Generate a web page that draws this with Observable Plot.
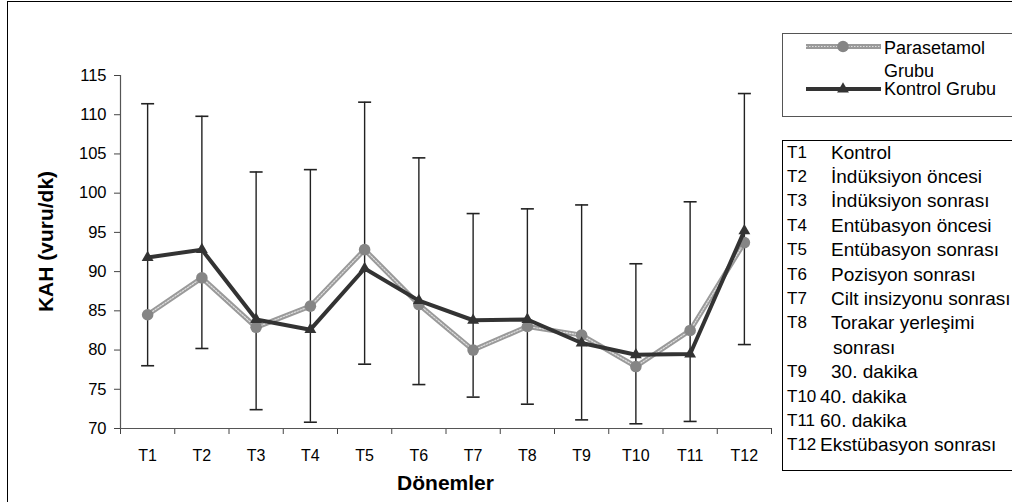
<!DOCTYPE html>
<html>
<head>
<meta charset="utf-8">
<script src="https://cdn.jsdelivr.net/npm/d3@7"></script>
<script src="https://cdn.jsdelivr.net/npm/@observablehq/plot@0.6"></script>
<style>
  html, body { margin: 0; padding: 0; background: #fff; overflow: hidden; }
  body { width: 1012px; height: 502px; position: relative; font-family: "Liberation Sans", Arial, sans-serif; }
  #chart { position: absolute; left: 0; top: 0; }
  #titles { position: absolute; left: 0; top: 0; pointer-events: none; }
  #frame { position: absolute; left: 7px; top: 1px; width: 1100px; height: 700px; border: 1.5px solid #000; pointer-events: none; }
  #legend { position: absolute; left: 782px; top: 33px; width: 300px; height: 82px; border: 1.3px solid #555; background: #fff; }
  #legend svg { position: absolute; left: 0; top: 0; }
  #desc { position: absolute; left: 782px; top: 140px; width: 300px; height: 329px; border: 1.5px solid #000; background: #fff; color: #000; }
  #desc .row { position: absolute; left: 0; height: 24.4px; line-height: 24.4px; white-space: nowrap; }
  #desc .k { position: absolute; left: 4px; font-size: 17px; }
  #desc .v { position: absolute; font-size: 19px; }
</style>
</head>
<body>
<div id="chart"></div>
<svg id="titles" width="1012" height="502"></svg>
<div id="frame"></div>
<div id="legend"></div>
<div id="desc"></div>
<script>
// ---- data ----
const categories = ["T1","T2","T3","T4","T5","T6","T7","T8","T9","T10","T11","T12"];
const parasetamol = [84.5, 89.2, 82.9, 85.6, 92.8, 85.8, 80.0, 83.0, 81.9, 77.9, 82.5, 93.7];
const kontrol     = [91.8, 92.8, 83.9, 82.6, 90.4, 86.3, 83.8, 83.9, 80.9, 79.4, 79.5, 95.2];
const errHigh     = [111.4, 109.8, 102.7, 103.0, 111.6, 104.5, 97.4, 98.0, 98.5, 91.0, 98.9, 112.7];
const errLow      = [78.0, 80.2, 72.4, 70.8, 78.2, 75.6, 74.0, 73.1, 71.1, 70.6, 70.9, 80.7];
const yTicks = [70, 75, 80, 85, 90, 95, 100, 105, 110, 115];
const seriesNames = ["Parasetamol Grubu", "Kontrol Grubu"];
const periodCodes = ["T1","T2","T3","T4","T5","T6","T7","T8","","T9","T10","T11","T12"];
const periodNames = ["Kontrol","İndüksiyon öncesi","İndüksiyon sonrası","Entübasyon öncesi","Entübasyon sonrası","Pozisyon sonrası","Cilt insizyonu sonrası","Torakar yerleşimi","sonrası","30. dakika","40. dakika","60. dakika","Ekstübasyon sonrası"];
const yTitle = "KAH (vuru/dk)";
const xTitle = "Dönemler";

// ---- table ----
const rows = categories.map((c, i) => ({
  idx: i + 1, cat: c, p: parasetamol[i], k: kontrol[i], hi: errHigh[i], lo: errLow[i]
}));

// horizontal cap symbol for error bars
const capSymbol = { draw(ctx, size) { const w = 6.5; ctx.moveTo(-w, 0); ctx.lineTo(w, 0); } };

const plot = Plot.plot({
  width: 1012,
  height: 502,
  marginLeft: 120,
  marginRight: 241,
  marginTop: 75,
  marginBottom: 74,
  style: { fontFamily: "'Liberation Sans', Arial, sans-serif", fontSize: "16px", color: "#000", background: "transparent", overflow: "visible" },
  x: { type: "linear", domain: [0.5, 12.5], axis: null },
  y: { domain: [70, 115], axis: null },
  marks: [
    // axes
    Plot.axisY({ ticks: yTicks, tickSize: 6, tickPadding: 8, stroke: "#444", fill: "#000", label: null, fontSize: 16.5 }),
    Plot.axisX({ ticks: d3.range(0.5, 13, 1), tickSize: 6, tickFormat: () => "", stroke: "#444", label: null }),
    Plot.axisX({ ticks: rows.map(d => d.idx), tickSize: 0, tickPadding: 21, tickFormat: i => categories[i - 1], fill: "#000", label: null, fontSize: 16 }),
    Plot.ruleY([70], { stroke: "#555", strokeWidth: 1.2 }),
    Plot.ruleX([0.5], { stroke: "#555", strokeWidth: 1.2 }),
    // error bars
    Plot.ruleX(rows, { x: "idx", y1: "lo", y2: "hi", stroke: "#222", strokeWidth: 1.4 }),
    Plot.dot(rows, { x: "idx", y: "hi", symbol: capSymbol, stroke: "#222", strokeWidth: 1.6, r: 5 }),
    Plot.dot(rows, { x: "idx", y: "lo", symbol: capSymbol, stroke: "#222", strokeWidth: 1.6, r: 5 }),
    // Parasetamol series (patterned gray line)
    Plot.line(rows, { x: "idx", y: "p", stroke: "#9a9a9a", strokeWidth: 5 }),
    Plot.line(rows, { x: "idx", y: "p", stroke: "#dedede", strokeWidth: 1.2, strokeDasharray: "1.5,1.5" }),
    Plot.dot(rows, { x: "idx", y: "p", r: 5.8, fill: "#858585", stroke: "none" }),
    // Kontrol series
    Plot.line(rows, { x: "idx", y: "k", stroke: "#333", strokeWidth: 4 }),
    Plot.dot(rows, { x: "idx", y: "k", symbol: "triangle", r: 4.4, fill: "#333", stroke: "none" })
  ]
});
document.getElementById("chart").appendChild(plot);

// ---- axis titles ----
const titles = d3.select("#titles")
  .style("font-family", "'Liberation Sans', Arial, sans-serif")
  .style("font-weight", "bold")
  .style("font-size", "21px");
titles.append("text")
  .attr("transform", "translate(53,241.5) rotate(-90)")
  .attr("text-anchor", "middle")
  .attr("fill", "#000")
  .text(yTitle);
titles.append("text")
  .attr("x", 445.5).attr("y", 489.5)
  .attr("text-anchor", "middle")
  .attr("fill", "#000")
  .text(xTitle);

// ---- legend ----
const leg = document.getElementById("legend");
leg.innerHTML = `
<svg width="300" height="82" xmlns="http://www.w3.org/2000/svg" style="font-family:'Liberation Sans', Arial, sans-serif; font-size:18px;">
  <line x1="23" y1="12.5" x2="98" y2="12.5" stroke="#9a9a9a" stroke-width="5"/>
  <line x1="23" y1="12.5" x2="98" y2="12.5" stroke="#dedede" stroke-width="1.2" stroke-dasharray="1.5,1.5"/>
  <circle cx="60" cy="12.5" r="5.8" fill="#858585"/>
  <text x="101" y="20" fill="#000">${seriesNames[0].split(" ")[0]}</text>
  <text x="101" y="43" fill="#000">${seriesNames[0].split(" ")[1]}</text>
  <line x1="23" y1="55" x2="98" y2="55" stroke="#333" stroke-width="4"/>
  <path d="${d3.symbol(d3.symbolTriangle, 4.4*4.4*Math.PI)()}" transform="translate(60,55)" fill="#333"/>
  <text x="101" y="61" fill="#000">${seriesNames[1]}</text>
</svg>`;

// ---- period description box ----
const desc = document.getElementById("desc");
periodCodes.forEach((code, i) => {
  const row = document.createElement("div");
  row.className = "row";
  row.style.top = (-0.5 + i * 24.4) + "px";
  const k = document.createElement("span");
  k.className = "k"; k.textContent = code;
  const v = document.createElement("span");
  v.className = "v"; v.textContent = periodNames[i];
  v.style.left = (code.length === 3 ? 37 : 48) + "px";
  if (code === "") v.style.left = "50px";
  row.appendChild(k); row.appendChild(v);
  desc.appendChild(row);
});
</script>
</body>
</html>
